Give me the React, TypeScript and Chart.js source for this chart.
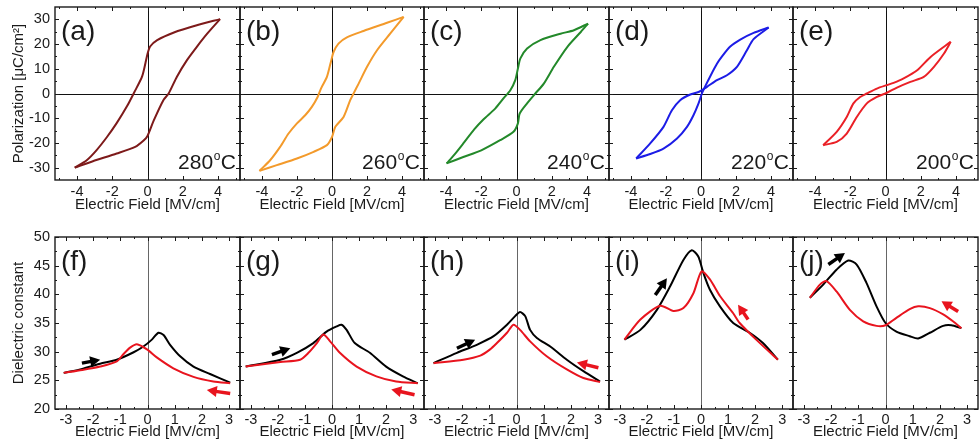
import React, { useEffect, useRef } from "react";
import { Chart, registerables } from "chart.js";

Chart.register(...registerables);

type Pt = [number, number];

const FONT = '"Liberation Sans", Arial, Helvetica, sans-serif';
const INK = "#1a1a1a";

// ---------- axes / ticks ----------
const POL_X_RANGE: Pt = [-5.25, 5.25];
const POL_Y_RANGE: Pt = [-35, 35];
const POL_X_MAJOR = [-4, -2, 0, 2, 4];
const POL_X_MINOR = [-5, -3, -1, 1, 3, 5];
const POL_Y_MAJOR = [-30, -20, -10, 0, 10, 20, 30];
const POL_Y_MINOR = [-25, -15, -5, 5, 15, 25];

const DIE_X_RANGE: Pt = [-3.4, 3.4];
const DIE_Y_RANGE: Pt = [20, 50];
const DIE_X_MAJOR = [-3, -2, -1, 0, 1, 2, 3];
const DIE_X_MINOR = [-2.5, -1.5, -0.5, 0.5, 1.5, 2.5];
const DIE_Y_MAJOR = [20, 25, 30, 35, 40, 45, 50];
const DIE_Y_MINOR = [22.5, 27.5, 32.5, 37.5, 42.5, 47.5];

// ---------- labels ----------
const POL_LABELS = ["(a)", "(b)", "(c)", "(d)", "(e)"];
const TEMPS = ["280", "260", "240", "220", "200"];
const DIE_LABELS = ["(f)", "(g)", "(h)", "(i)", "(j)"];
const LOOP_COLORS = ["#7d1a1a", "#f39a2b", "#23892a", "#1c1ce6", "#ea2026"];
const UP_COLOR = "#000000";
const DOWN_COLOR = "#e8141e";

// ---------- P-E loops (descending branch, ascending branch) ----------
const descA: Pt[] = [[4.12, 30.1], [2.8, 27.6], [1.5, 24.7], [0.55, 21.6], [0.15, 19], [0, 16], [-0.3, 7], [-0.75, 0.5], [-1.15, -5], [-1.75, -12], [-2.3, -17.6], [-2.9, -23], [-3.45, -27], [-4.13, -30]];
const ascA: Pt[] = [[-4.13, -30], [-3.1, -27.4], [-1.75, -24.3], [-0.7, -21.6], [-0.22, -19], [0, -17.2], [0.35, -11], [0.9, -2.7], [1.2, 0], [1.67, 6.8], [2.24, 13.5], [2.8, 18.9], [3.4, 24.3], [4.12, 30.1]];

const descB: Pt[] = [[4.09, 31], [3.14, 28.6], [1.8, 25.3], [0.85, 22.7], [0.37, 20.2], [0.09, 16.8], [-0.04, 13.5], [-0.29, 6.7], [-0.63, 2], [-0.82, -1.4], [-1.15, -5.4], [-1.53, -8.8], [-2.0, -12.1], [-2.48, -16.2], [-2.96, -21.6], [-3.53, -27], [-4.14, -31.3]];
const ascB: Pt[] = [[-4.14, -31.3], [-3.15, -29], [-2.0, -26.3], [-1.05, -23.6], [-0.29, -20.9], [0, -17.6], [0.19, -13.5], [0.66, -9.5], [1.04, -2.7], [1.23, 0], [1.52, 4], [2.0, 10.8], [2.57, 17.5], [3.33, 24.3], [4.09, 31]];

const descC: Pt[] = [[4.06, 28.3], [3.26, 25.6], [2.5, 24.2], [1.36, 21.6], [0.6, 18.2], [0.22, 14.2], [0.08, 10.1], [-0.07, 5.4], [-0.35, 1.3], [-0.74, -2], [-1.21, -6.1], [-1.88, -10.5], [-2.4, -14.5], [-3.02, -20.2], [-3.5, -24.5], [-3.97, -28.3]];
const ascC: Pt[] = [[-3.97, -28.3], [-3.02, -25.7], [-2.0, -23.0], [-0.93, -18.9], [-0.17, -15.5], [0.08, -12.1], [0.18, -8.1], [0.6, -4], [1.07, 0], [1.55, 4], [2.12, 10.8], [2.89, 18.9], [3.65, 24.9], [4.06, 28.3]];

const descD: Pt[] = [[3.86, 26.7], [3.0, 24.5], [2.24, 21.8], [1.67, 19.0], [1.2, 15.0], [0.91, 12.0], [0.53, 7.0], [0.19, 2.2], [0.05, 0], [-0.14, -4], [-0.43, -8.8], [-0.8, -13.5], [-1.37, -18.2], [-2.14, -22.3], [-2.9, -24.5], [-3.7, -26.3]];
const ascD: Pt[] = [[-3.7, -26.3], [-2.9, -20.2], [-2.14, -13.5], [-1.66, -6.8], [-1.19, -2.7], [-0.61, -0.4], [-0.14, 0.6], [0.34, 2.7], [0.91, 5.4], [1.48, 7.4], [2.05, 10.8], [2.62, 17.5], [3.0, 22.0], [3.86, 26.7]];

const descE: Pt[] = [[3.7, 20.9], [2.56, 14.8], [1.8, 9.4], [1.03, 6.1], [0.46, 4.3], [0.08, 3.4], [-0.49, 2], [-1.06, 0], [-1.44, -1.4], [-1.82, -4], [-2.2, -9.5], [-2.77, -15.5], [-3.54, -20.9]];
const ascE: Pt[] = [[-3.54, -20.9], [-2.77, -19.6], [-2.2, -16.2], [-1.63, -9.5], [-1.06, -4], [-0.49, -1.4], [0.08, 0.3], [0.65, 2.4], [1.41, 4.7], [2.17, 6.7], [2.75, 10.8], [3.32, 16.2], [3.7, 20.9]];

// ---------- dielectric constant sweeps (up = black, down = red) ----------
const upF: Pt[] = [[-3.08, 26.3], [-2.4, 27.0], [-1.74, 27.9], [-1.13, 28.6], [-0.51, 29.9], [-0.15, 30.9], [0.16, 32.1], [0.4, 33.3], [0.59, 32.9], [0.83, 31.2], [1.2, 29.2], [1.69, 27.4], [2.3, 26.1], [3.04, 24.6]];
const downF: Pt[] = [[-3.08, 26.3], [-2.4, 26.8], [-1.74, 27.4], [-1.13, 28.3], [-0.88, 29.6], [-0.64, 30.7], [-0.39, 31.3], [-0.02, 30.4], [0.34, 29.0], [0.95, 27.1], [1.69, 25.6], [2.42, 24.8], [3.04, 24.5]];

const upG: Pt[] = [[-3.19, 27.4], [-1.91, 28.6], [-1.3, 29.8], [-0.69, 31.5], [-0.2, 33.5], [0.17, 34.4], [0.35, 34.7], [0.54, 33.8], [0.84, 31.5], [1.4, 29.8], [2.0, 27.4], [2.62, 25.7], [3.17, 24.5]];
const downG: Pt[] = [[-3.19, 27.4], [-1.91, 28.2], [-1.18, 28.6], [-0.87, 29.8], [-0.56, 31.5], [-0.32, 33.0], [-0.07, 31.8], [0.29, 29.8], [0.91, 27.4], [1.64, 25.7], [2.37, 24.8], [3.17, 24.5]];

const upH: Pt[] = [[-3.05, 28.0], [-2.19, 29.8], [-1.46, 31.2], [-0.84, 32.7], [-0.35, 34.7], [-0.05, 36.2], [0.13, 36.9], [0.32, 36.2], [0.5, 33.8], [0.75, 32.4], [1.24, 30.9], [1.85, 28.6], [2.46, 26.6], [3.07, 24.8]];
const downH: Pt[] = [[-3.05, 28.0], [-1.95, 28.6], [-1.33, 29.3], [-0.97, 30.4], [-0.72, 31.5], [-0.35, 33.3], [-0.11, 34.7], [0.13, 33.8], [0.5, 31.8], [1.11, 29.2], [1.85, 26.9], [2.46, 25.4], [3.07, 24.7]];

const upI: Pt[] = [[-2.83, 32.1], [-2.24, 33.8], [-1.63, 37.3], [-1.14, 41.4], [-0.65, 46.0], [-0.34, 47.7], [-0.1, 46.6], [0.09, 43.7], [0.33, 40.8], [0.7, 37.9], [1.19, 35.0], [1.8, 33.3], [2.29, 31.5], [2.84, 28.6]];
const downI: Pt[] = [[-2.83, 32.1], [-2.24, 35.6], [-1.51, 38.0], [-1.02, 37.1], [-0.65, 37.6], [-0.28, 40.2], [0.02, 44.0], [0.33, 42.6], [0.7, 39.7], [1.19, 36.7], [1.43, 35.0], [2.04, 32.1], [2.84, 28.6]];

const upJ: Pt[] = [[-2.78, 39.4], [-2.29, 41.7], [-1.8, 44.3], [-1.37, 45.9], [-1.06, 45.2], [-0.7, 42.0], [-0.33, 37.9], [0, 35.0], [0.4, 33.5], [0.89, 32.7], [1.2, 32.3], [1.63, 33.3], [2.12, 34.5], [2.42, 34.6], [2.79, 34.1]];
const downJ: Pt[] = [[-2.78, 39.4], [-2.41, 41.7], [-2.17, 42.3], [-1.8, 40.5], [-1.31, 37.3], [-0.82, 35.3], [-0.33, 34.5], [0, 34.6], [0.4, 35.9], [0.89, 37.4], [1.2, 37.9], [1.63, 37.6], [2.12, 36.5], [2.48, 35.3], [2.79, 34.1]];

// sweep-direction arrows: [tailX, tailY, headX, headY]
const UP_ARROWS: number[][] = [[-2.41, 28.0, -1.74, 28.6], [-2.22, 29.5, -1.54, 30.6], [-2.19, 30.6, -1.52, 32.1], [-1.69, 39.9, -1.26, 42.8], [-2.1, 45.2, -1.49, 47.2]];
const DOWN_ARROWS: number[][] = [[3.04, 22.7, 2.18, 23.3], [3.05, 22.5, 2.19, 23.4], [3.01, 27.2, 2.22, 28.1], [1.74, 35.6, 1.37, 38.2], [2.67, 37.0, 2.06, 38.8]];

const LOOPS: Pt[][][] = [[descA, ascA], [descB, ascB], [descC, ascC], [descD, ascD], [descE, ascE]];
const SWEEPS: Pt[][][] = [[upF, downF], [upG, downG], [upH, downH], [upI, downI], [upJ, downJ]];

// ---------- layout ----------
const COL_LEFT = [55, 240, 424, 609, 793, 978];
const ROWS = [
  { canvasTop: 0, canvasH: 220, plotTop: 7, plotH: 173, tickPad: 3, titlePad: 6 },
  { canvasTop: 220, canvasH: 228, plotTop: 17, plotH: 172, tickPad: 2, titlePad: 7.5 },
];

interface Spec {
  row: number;
  col: number;
}

function drawArrow(ctx: CanvasRenderingContext2D, x1: number, y1: number, x2: number, y2: number, color: string) {
  const ang = Math.atan2(y2 - y1, x2 - x1);
  const hl = 10;
  const hw = 5.5;
  const bx = x2 - hl * Math.cos(ang);
  const by = y2 - hl * Math.sin(ang);
  ctx.strokeStyle = color;
  ctx.fillStyle = color;
  ctx.lineWidth = 3.5;
  ctx.lineCap = "butt";
  ctx.beginPath();
  ctx.moveTo(x1, y1);
  ctx.lineTo(bx + 1 * Math.cos(ang), by + 1 * Math.sin(ang));
  ctx.stroke();
  ctx.beginPath();
  ctx.moveTo(x2, y2);
  ctx.lineTo(bx + hw * Math.sin(ang), by - hw * Math.cos(ang));
  ctx.lineTo(bx - hw * Math.sin(ang), by + hw * Math.cos(ang));
  ctx.closePath();
  ctx.fill();
}

function makeDeco(spec: Spec) {
  const top = spec.row === 0;
  const xMaj = top ? POL_X_MAJOR : DIE_X_MAJOR;
  const xMin = top ? POL_X_MINOR : DIE_X_MINOR;
  const yMaj = top ? POL_Y_MAJOR : DIE_Y_MAJOR;
  const yMin = top ? POL_Y_MINOR : DIE_Y_MINOR;
  return {
    id: "deco",
    beforeDatasetsDraw(chart: any) {
      const { ctx, chartArea: a, scales } = chart;
      ctx.save();
      ctx.lineWidth = 1;
      ctx.strokeStyle = top ? "#111" : "#666";
      const x0 = Math.round(scales.x.getPixelForValue(0)) + 0.5;
      ctx.beginPath();
      ctx.moveTo(x0, a.top);
      ctx.lineTo(x0, a.bottom);
      if (top) {
        const y0 = Math.round(scales.y.getPixelForValue(0)) + 0.5;
        ctx.moveTo(a.left, y0);
        ctx.lineTo(a.right, y0);
      }
      ctx.stroke();
      ctx.restore();
    },
    afterDatasetsDraw(chart: any) {
      const { ctx, chartArea: a, scales } = chart;
      ctx.save();
      // frame
      ctx.strokeStyle = INK;
      ctx.lineWidth = 1.4;
      ctx.strokeRect(a.left, a.top, a.right - a.left, a.bottom - a.top);
      // ticks (inward on all sides)
      ctx.lineWidth = 1;
      const xt = (vals: number[], len: number) => {
        vals.forEach((v) => {
          const px = Math.round(scales.x.getPixelForValue(v)) + 0.5;
          ctx.moveTo(px, a.bottom);
          ctx.lineTo(px, a.bottom - len);
          ctx.moveTo(px, a.top);
          ctx.lineTo(px, a.top + len);
        });
      };
      const yt = (vals: number[], len: number) => {
        vals.forEach((v) => {
          const py = Math.round(scales.y.getPixelForValue(v)) + 0.5;
          ctx.moveTo(a.left, py);
          ctx.lineTo(a.left + len, py);
          ctx.moveTo(a.right, py);
          ctx.lineTo(a.right - len, py);
        });
      };
      ctx.beginPath();
      xt(xMaj, 4);
      xt(xMin, 2);
      yt(yMaj, 4);
      yt(yMin, 2);
      ctx.stroke();

      // panel label
      ctx.fillStyle = INK;
      ctx.textAlign = "left";
      ctx.textBaseline = "alphabetic";
      ctx.font = `28px ${FONT}`;
      const label = top ? POL_LABELS[spec.col] : DIE_LABELS[spec.col];
      ctx.fillText(label, a.left + 6, a.top + 33);

      if (top) {
        // temperature with superscript o
        const num = TEMPS[spec.col];
        ctx.font = `21px ${FONT}`;
        const wNum = ctx.measureText(num).width;
        const wC = ctx.measureText("C").width;
        ctx.font = `12px ${FONT}`;
        const wO = ctx.measureText("o").width;
        const base = a.bottom - 11.5;
        const x0 = a.right - 4 - (wNum + wO + wC + 1);
        ctx.font = `21px ${FONT}`;
        ctx.fillText(num, x0, base);
        ctx.fillText("C", x0 + wNum + wO + 1, base);
        ctx.font = `12px ${FONT}`;
        ctx.fillText("o", x0 + wNum + 0.5, base - 8.5);
      } else {
        const u = UP_ARROWS[spec.col];
        const d = DOWN_ARROWS[spec.col];
        drawArrow(ctx, scales.x.getPixelForValue(u[0]), scales.y.getPixelForValue(u[1]), scales.x.getPixelForValue(u[2]), scales.y.getPixelForValue(u[3]), UP_COLOR);
        drawArrow(ctx, scales.x.getPixelForValue(d[0]), scales.y.getPixelForValue(d[1]), scales.x.getPixelForValue(d[2]), scales.y.getPixelForValue(d[3]), DOWN_COLOR);
      }
      ctx.restore();
    },
  };
}

function geometry(spec: Spec) {
  const r = ROWS[spec.row];
  const plotLeft = COL_LEFT[spec.col];
  const plotW = COL_LEFT[spec.col + 1] - plotLeft;
  const L = spec.col === 0 ? 55 : 20;
  const R = spec.col === 4 ? 2 : 10;
  return {
    left: plotLeft - L,
    top: r.canvasTop,
    w: L + plotW + R,
    h: r.canvasH,
    L,
    R,
    T: r.plotTop,
    B: r.canvasH - r.plotTop - r.plotH,
    titlePad: r.titlePad,
    tickPad: r.tickPad,
  };
}

function Panel({ spec }: { spec: Spec }) {
  const ref = useRef<HTMLCanvasElement>(null);
  const g = geometry(spec);
  useEffect(() => {
    const top = spec.row === 0;
    const pair = top ? LOOPS[spec.col] : SWEEPS[spec.col];
    // draw red (down sweep) first so the black sits on top
    const ordered = top ? [pair[0], pair[1]] : [pair[1], pair[0]];
    const colorsFor = top ? [LOOP_COLORS[spec.col], LOOP_COLORS[spec.col]] : [DOWN_COLOR, UP_COLOR];
    const datasets = ordered.map((pts, i) => ({
      data: pts.map(([x, y]) => ({ x, y })),
      showLine: true,
      borderColor: colorsFor[i],
      borderWidth: 2,
      pointRadius: 0,
      tension: 0.25,
      fill: false,
    }));
    const xr = top ? POL_X_RANGE : DIE_X_RANGE;
    const yr = top ? POL_Y_RANGE : DIE_Y_RANGE;
    const xMaj = top ? POL_X_MAJOR : DIE_X_MAJOR;
    const yMaj = top ? POL_Y_MAJOR : DIE_Y_MAJOR;
    const first = spec.col === 0;
    const chart = new Chart(ref.current as HTMLCanvasElement, {
      type: "scatter",
      data: { datasets } as any,
      plugins: [makeDeco(spec) as any],
      options: {
        animation: false,
        responsive: false,
        events: [],
        layout: { padding: { top: g.T, right: g.R, left: 0, bottom: 0 } },
        plugins: { legend: { display: false }, tooltip: { enabled: false } },
        scales: {
          x: {
            type: "linear",
            min: xr[0],
            max: xr[1],
            grid: { display: false, drawTicks: false },
            border: { display: false },
            ticks: {
              color: INK,
              font: { family: FONT, size: 14.5 },
              padding: g.tickPad,
              autoSkip: false,
              maxRotation: 0,
              callback: (v: any) => String(v),
            },
            afterBuildTicks: (s: any) => {
              s.ticks = xMaj.map((v) => ({ value: v }));
            },
            afterFit: (s: any) => {
              s.height = g.B;
              s.paddingLeft = 0;
              s.paddingRight = 0;
              s.paddingTop = 0;
              s.paddingBottom = 0;
            },
            title: {
              display: true,
              text: "Electric Field [MV/cm]",
              color: INK,
              font: { family: FONT, size: 15 },
              padding: { top: 0, bottom: g.titlePad },
            },
          },
          y: {
            type: "linear",
            min: yr[0],
            max: yr[1],
            grid: { display: false, drawTicks: false },
            border: { display: false },
            ticks: {
              display: first,
              color: INK,
              font: { family: FONT, size: 14.5 },
              padding: 5,
              autoSkip: false,
              callback: (v: any) => String(v),
            },
            afterBuildTicks: (s: any) => {
              s.ticks = yMaj.map((v) => ({ value: v }));
            },
            afterFit: (s: any) => {
              s.width = g.L;
              s.paddingLeft = 0;
              s.paddingRight = 0;
              s.paddingTop = 0;
              s.paddingBottom = 0;
            },
            title: {
              display: first,
              text: top ? "Polarization [μC/cm²]" : "Dielectric constant",
              color: INK,
              font: { family: FONT, size: 15 },
              padding: { top: 10, bottom: 0 },
            },
          },
        },
      } as any,
    });
    return () => chart.destroy();
  }, []);
  return (
    <canvas
      ref={ref}
      width={g.w}
      height={g.h}
      style={{ position: "absolute", left: g.left, top: g.top, width: g.w, height: g.h }}
    />
  );
}

export default function App() {
  const specs: Spec[] = [];
  for (let row = 0; row < 2; row++) for (let col = 0; col < 5; col++) specs.push({ row, col });
  return (
    <div style={{ position: "absolute", left: 0, top: 0, width: 980, height: 448, background: "#fff", overflow: "hidden" }}>
      {specs.map((s) => (
        <Panel key={`${s.row}-${s.col}`} spec={s} />
      ))}
    </div>
  );
}
